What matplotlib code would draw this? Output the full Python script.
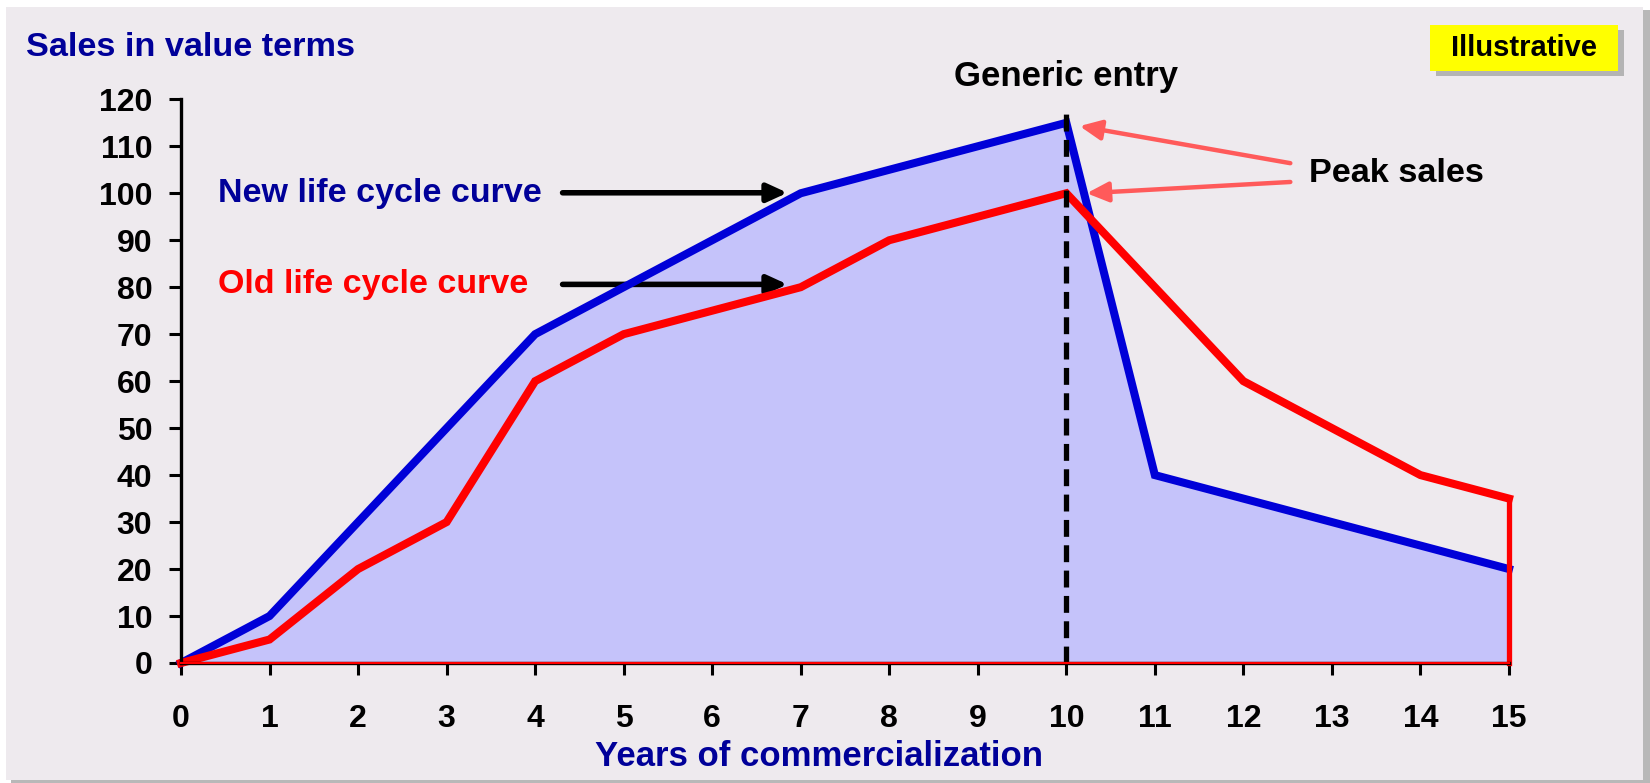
import matplotlib
matplotlib.use("Agg")
import matplotlib.pyplot as plt
from matplotlib.patches import Rectangle

years = list(range(16))
new_curve = [0, 10, 30, 50, 70, 80, 90, 100, 105, 110, 115, 40, 35, 30, 25, 20]
old_curve = [0, 5, 20, 30, 60, 70, 75, 80, 90, 95, 100, 80, 60, 50, 40, 35]
y_ticks = list(range(0, 121, 10))
generic_entry_year = 10

BLUE = "#0000D8"
RED = "#FF0000"
NAVY = "#000099"
FILL = "#C5C3FA"
BG = "#EEEAEE"
SALMON = "#FF5A5A"

plt.rcParams['font.family'] = ['Liberation Sans', 'DejaVu Sans']
plt.rcParams['font.weight'] = 'bold'

W, H = 1650, 783
fig = plt.figure(figsize=(W / 100, H / 100), dpi=100, facecolor="white")

def fx(px):
    return px / W

def fy(py):
    return 1 - py / H

# panel + shadow
fig.patches.append(Rectangle((fx(11), fy(783)), fx(1639), fy(10) - fy(783),
                             transform=fig.transFigure, facecolor="#B8B8B8",
                             edgecolor="none", zorder=-3))
fig.patches.append(Rectangle((fx(6), fy(780)), fx(1637), fy(7) - fy(780),
                             transform=fig.transFigure, facecolor=BG,
                             edgecolor="none", zorder=-2))

ax = fig.add_axes([fx(181), fy(663), fx(1509) - fx(181), fy(99.3) - fy(663)])
ax.set_facecolor("none")
ax.set_zorder(1)
ax.set_xlim(0, 15)
ax.set_ylim(0, 120)

ax.fill_between(years, new_curve, 0, color=FILL, lw=0, zorder=1)
ax.plot(years, new_curve, color=BLUE, lw=5.8, solid_joinstyle='miter', zorder=4, clip_on=False)
ax.plot(years, old_curve, color=RED, lw=5.8, solid_joinstyle='miter', zorder=4, clip_on=False)
ax.plot([years[-1], years[-1]], [old_curve[-1], 0], color=RED, lw=3.8, zorder=4, clip_on=False)
ax.plot([years[0], years[-1]], [0, 0], color=RED, lw=1.6, zorder=6, clip_on=False)

ax.plot([generic_entry_year, generic_entry_year], [0, 118], color="black", lw=3.8,
        dashes=(3.2, 1.6), zorder=5, clip_on=False)

for s in ["top", "right"]:
    ax.spines[s].set_visible(False)
for s in ["left", "bottom"]:
    ax.spines[s].set_linewidth(2.4)
    ax.spines[s].set_color("black")
    ax.spines[s].set_zorder(5)

ax.set_xticks(years)
ax.set_yticks(y_ticks)
ax.tick_params(axis='both', direction='out', length=8.6, width=2.2, labelsize=23,
               colors='black')
ax.tick_params(axis='x', pad=21)
ax.tick_params(axis='y', pad=12)
for lab in ax.get_xticklabels() + ax.get_yticklabels():
    lab.set_fontweight('bold')

# labels
fig.text(fx(26), fy(47), "Sales in value terms", color=NAVY, fontsize=24.7,
         fontweight='bold', ha='left', va='center')
fig.text(fx(819), fy(756), "Years of commercialization", color=NAVY, fontsize=25,
         fontweight='bold', ha='center', va='center')

ax.text(0.42, 100, "New life cycle curve", color=NAVY, fontsize=24.5, fontweight='bold',
        ha='left', va='center')
ax.text(0.42, 80.5, "Old life cycle curve", color=RED, fontsize=24.5, fontweight='bold',
        ha='left', va='center')

arrow_kw = dict(arrowstyle="-|>,head_length=1.2,head_width=0.55", color="black", lw=4,
                shrinkA=0, shrinkB=0)
ax.annotate("", xy=(6.85, 100.1), xytext=(4.31, 100.1), arrowprops=arrow_kw, annotation_clip=False)
ax.annotate("", xy=(6.85, 80.6), xytext=(4.31, 80.6), arrowprops=arrow_kw, annotation_clip=False)

ax.text(generic_entry_year, 124.8, "Generic entry", color="black", fontsize=25,
        fontweight='bold', ha='center', va='center')

peak_kw = dict(arrowstyle="-|>,head_length=1.3,head_width=0.6", color=SALMON, lw=3.2,
               shrinkA=0, shrinkB=0)
ax.annotate("", xy=(10.15, 114.3), xytext=(12.53, 106.4), arrowprops=peak_kw, annotation_clip=False)
ax.annotate("", xy=(10.23, 100.0), xytext=(12.53, 102.4), arrowprops=peak_kw, annotation_clip=False)
ax.text(12.74, 104.1, "Peak sales", color="black", fontsize=24.7, fontweight='bold',
        ha='left', va='center')

# Illustrative box
fig.patches.append(Rectangle((fx(1436), fy(76)), fx(188), fy(30) - fy(76),
                             transform=fig.transFigure, facecolor="#B4B4B4",
                             edgecolor="none", zorder=1))
fig.patches.append(Rectangle((fx(1430), fy(71)), fx(188), fy(25) - fy(71),
                             transform=fig.transFigure, facecolor="#FFFF00",
                             edgecolor="none", zorder=2))
fig.text(fx(1524), fy(48), "Illustrative", color="black", fontsize=21,
         fontweight='bold', ha='center', va='center', zorder=3)

fig.savefig("out.png", dpi=100, facecolor=fig.get_facecolor())
